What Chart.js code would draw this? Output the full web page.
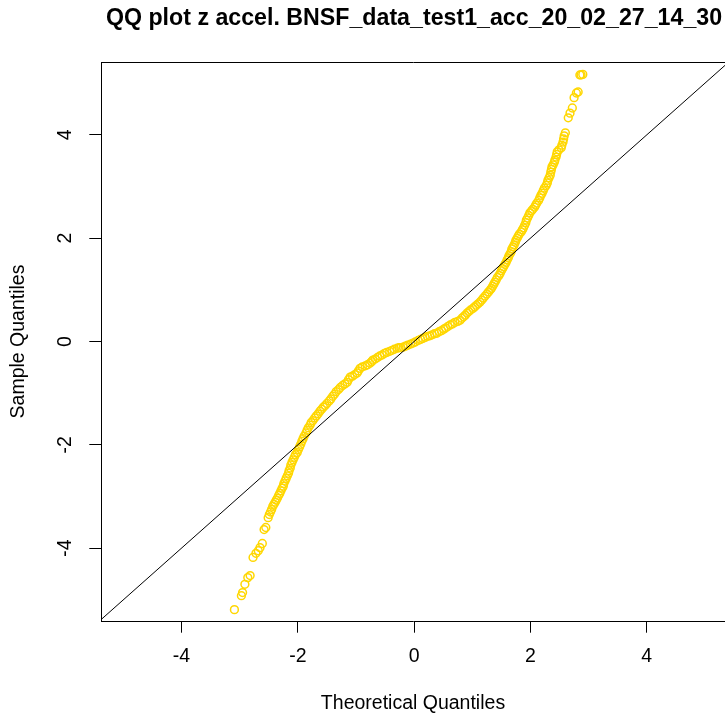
<!DOCTYPE html>
<html>
<head>
<meta charset="utf-8">
<title>QQ plot z accel</title>
<script src="https://cdn.jsdelivr.net/npm/chart.js@4.4.1/dist/chart.umd.min.js"></script>
<style>
  html, body { margin: 0; padding: 0; background: #fff; overflow: hidden; }
  #chart { display: block; }
</style>
</head>
<body>
<canvas id="chart" width="725" height="715"></canvas>
<script>
// Values (theoretical vs sample quantiles).
const theoretical = [
  -3.09, -2.97, -2.95, -2.91, -2.86, -2.82, -2.77, -2.72, -2.68, -2.65, -2.61, -2.58, -2.55,
  -2.51, -2.49, -2.47, -2.45, -2.43, -2.41, -2.39, -2.37, -2.35, -2.33, -2.31, -2.29, -2.27, -2.25,
  -2.24, -2.22, -2.20, -2.18, -2.16, -2.15, -2.13, -2.12, -2.10, -2.08, -2.06, -2.04,
  -2.01, -1.99, -1.97, -1.95, -1.93, -1.91, -1.89, -1.86, -1.84, -1.82, -1.79, -1.77,
  -1.74, -1.71, -1.68, -1.65, -1.62, -1.59, -1.56, -1.53, -1.50, -1.46, -1.43,
  -1.40, -1.37, -1.34, -1.30, -1.27, -1.23, -1.19, -1.15, -1.13, -1.10, -1.06, -1.02,
  -0.98, -0.96, -0.93, -0.89, -0.84, -0.80, -0.76, -0.73, -0.71, -0.67, -0.63, -0.59, -0.55, -0.51,
  -0.47, -0.42, -0.38, -0.34, -0.29, -0.26, -0.23, -0.19, -0.15, -0.11, -0.06,
  -0.02, 0.02, 0.07, 0.11, 0.15, 0.19, 0.23, 0.27, 0.31, 0.35,
  0.39, 0.43, 0.47, 0.51, 0.54, 0.58, 0.62, 0.66, 0.70, 0.75,
  0.79, 0.82, 0.85, 0.88, 0.91, 0.94, 0.97, 1.01, 1.04, 1.07, 1.10,
  1.13, 1.16, 1.19, 1.22, 1.25, 1.28, 1.31, 1.33, 1.35, 1.37,
  1.39, 1.41, 1.43, 1.46, 1.48, 1.50, 1.52, 1.54, 1.56, 1.58,
  1.60, 1.62, 1.63, 1.65, 1.67, 1.68, 1.70, 1.72, 1.74, 1.75,
  1.77, 1.79, 1.81, 1.84, 1.86, 1.88, 1.90, 1.92, 1.93, 1.95, 1.97,
  1.99, 2.02, 2.04, 2.07, 2.09, 2.11, 2.14, 2.16, 2.18,
  2.20, 2.22, 2.24, 2.27, 2.29, 2.30, 2.32, 2.34, 2.35, 2.36,
  2.37, 2.39, 2.41, 2.42, 2.44, 2.45, 2.46, 2.49, 2.53, 2.54, 2.56, 2.57, 2.58, 2.60,
  2.65, 2.68, 2.72, 2.75, 2.79, 2.82, 2.85, 2.87, 2.90
];
const sample = [
  -5.19, -4.92, -4.86, -4.70, -4.57, -4.53, -4.18, -4.10, -4.05, -3.99, -3.91, -3.64, -3.60,
  -3.41, -3.35, -3.30, -3.25, -3.19, -3.15, -3.11, -3.07, -3.03, -2.98, -2.94, -2.89, -2.84, -2.80,
  -2.75, -2.70, -2.65, -2.60, -2.55, -2.50, -2.45, -2.39, -2.34, -2.29, -2.24, -2.19,
  -2.15, -2.09, -2.04, -1.99, -1.93, -1.88, -1.83, -1.77, -1.72, -1.67, -1.62, -1.57,
  -1.53, -1.48, -1.44, -1.40, -1.35, -1.31, -1.27, -1.24, -1.20, -1.15, -1.11,
  -1.06, -1.02, -0.97, -0.93, -0.89, -0.85, -0.82, -0.79, -0.74, -0.69, -0.67, -0.64,
  -0.61, -0.57, -0.52, -0.49, -0.47, -0.45, -0.42, -0.39, -0.36, -0.34, -0.31, -0.28, -0.26, -0.23,
  -0.21, -0.19, -0.17, -0.15, -0.13, -0.12, -0.12, -0.11, -0.09, -0.07, -0.05,
  -0.03, -0.01, 0.02, 0.04, 0.06, 0.08, 0.10, 0.11, 0.13, 0.15,
  0.16, 0.19, 0.21, 0.24, 0.26, 0.29, 0.32, 0.34, 0.37, 0.39,
  0.41, 0.45, 0.48, 0.51, 0.55, 0.58, 0.61, 0.64, 0.67, 0.70, 0.73,
  0.76, 0.80, 0.84, 0.88, 0.92, 0.96, 1.00, 1.03, 1.07, 1.11,
  1.15, 1.19, 1.24, 1.28, 1.32, 1.37, 1.41, 1.45, 1.49, 1.53,
  1.58, 1.62, 1.66, 1.70, 1.74, 1.79, 1.83, 1.87, 1.92, 1.96,
  2.00, 2.04, 2.08, 2.12, 2.16, 2.20, 2.25, 2.30, 2.35, 2.39, 2.44,
  2.49, 2.53, 2.56, 2.60, 2.64, 2.68, 2.73, 2.78, 2.83,
  2.87, 2.92, 2.97, 3.02, 3.07, 3.12, 3.17, 3.22, 3.28, 3.33,
  3.38, 3.42, 3.47, 3.51, 3.57, 3.62, 3.67, 3.71, 3.75, 3.80, 3.86, 3.92, 3.98, 4.04,
  4.33, 4.42, 4.52, 4.72, 4.81, 4.83, 5.16, 5.16, 5.17
];
// reference line (y = x) end points
const refLineX = [-5.5, 5.5];
const refLineY = [-5.5, 5.5];
const xTicks = [-4, -2, 0, 2, 4];
const yTicks = [-4, -2, 0, 2, 4];
const titleText = 'QQ plot z accel. BNSF_data_test1_acc_20_02_27_14_30';

const FONT = '"Liberation Sans", Arial, sans-serif';
const LABEL_SIZE = 19.5;
const TICK_LEN = 11.7;

// R-style frame, rotated y tick labels and the main title
const rStyle = {
  id: 'rStyle',
  afterDraw(chart) {
    const { ctx, chartArea: a, scales: { y } } = chart;
    ctx.save();
    ctx.strokeStyle = '#000';
    ctx.lineWidth = 1;
    ctx.beginPath();
    ctx.moveTo(a.left, a.top + 0.5);
    ctx.lineTo(a.right + 2, a.top + 0.5);
    ctx.stroke();

    ctx.fillStyle = '#000';
    ctx.font = LABEL_SIZE + 'px ' + FONT;
    ctx.textAlign = 'center';
    ctx.textBaseline = 'middle';
    yTicks.forEach(v => {
      ctx.save();
      ctx.translate(a.left - TICK_LEN - 12 - LABEL_SIZE * 0.6, y.getPixelForValue(v));
      ctx.rotate(-Math.PI / 2);
      ctx.fillText(String(v), 0, 0);
      ctx.restore();
    });

    ctx.font = 'bold 23.2px ' + FONT;
    ctx.fillText(titleText, 414, 19);
    ctx.restore();
  }
};

const ctx = document.getElementById('chart').getContext('2d');
new Chart(ctx, {
  type: 'scatter',
  data: {
    datasets: [{
      label: 'line',
      type: 'line',
      data: refLineX.map((x, i) => ({ x, y: refLineY[i] })),
      borderColor: '#000',
      borderWidth: 1,
      pointRadius: 0,
      fill: false,
      order: 0
    }, {
      label: 'sample',
      data: theoretical.map((x, i) => ({ x, y: sample[i] })),
      borderColor: '#FFD700',
      backgroundColor: 'rgba(0,0,0,0)',
      borderWidth: 1.5,
      pointRadius: 3.9,
      order: 1
    }]
  },
  options: {
    responsive: false,
    devicePixelRatio: 1,
    animation: false,
    layout: { autoPadding: false, padding: { top: 62, right: 0, bottom: 0, left: 0 } },
    plugins: { legend: { display: false }, tooltip: { enabled: false } },
    scales: {
      x: {
        type: 'linear',
        min: -5.384,
        max: 5.345,
        afterBuildTicks: s => { s.ticks = xTicks.map(v => ({ value: v })); },
        afterFit: s => { s.height = 94; },
        ticks: { color: '#000', padding: 12, font: { family: FONT, size: LABEL_SIZE }, maxRotation: 0 },
        grid: { drawOnChartArea: false, drawTicks: true, tickLength: TICK_LEN, color: '#000' },
        border: { display: true, color: '#000', width: 1 },
        title: { display: true, text: 'Theoretical Quantiles', color: '#000',
                 font: { family: FONT, size: LABEL_SIZE }, padding: { top: 0, bottom: 0 } }
      },
      y: {
        type: 'linear',
        min: -5.41,
        max: 5.41,
        afterBuildTicks: s => { s.ticks = yTicks.map(v => ({ value: v })); },
        afterFit: s => { s.width = 101; },
        ticks: { display: false },
        grid: { drawOnChartArea: false, drawTicks: true, tickLength: TICK_LEN, color: '#000' },
        border: { display: true, color: '#000', width: 1 },
        title: { display: true, text: 'Sample Quantiles', color: '#000',
                 font: { family: FONT, size: LABEL_SIZE }, padding: { top: 7, bottom: 0 } }
      }
    }
  },
  plugins: [rStyle]
});
</script>
</body>
</html>
